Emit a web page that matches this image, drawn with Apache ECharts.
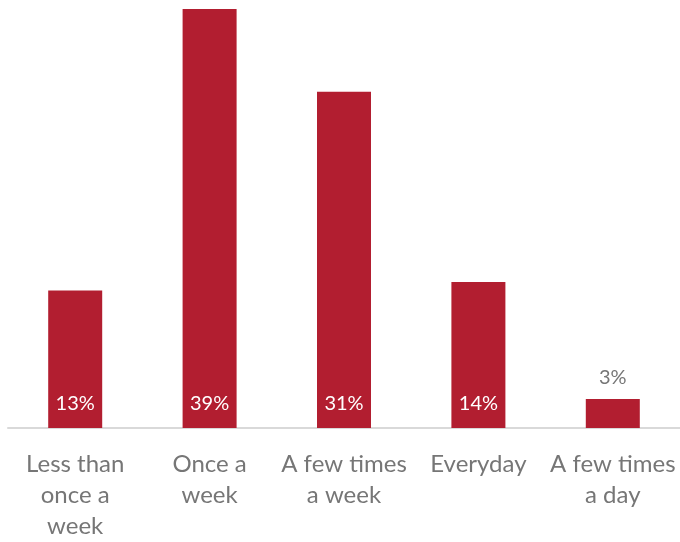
<!DOCTYPE html>
<html><head><meta charset="utf-8">
<script src="https://cdn.jsdelivr.net/npm/echarts@6/dist/echarts.min.js"></script>
<style>html,body{margin:0;padding:0;background:#fff}#c{width:680px;height:542px}</style>
</head><body><div id="c"></div>
<script>
const categories = ['Less than\nonce a\nweek', 'Once a\nweek', 'A few times\na week', 'Everyday', 'A few times\na day'];
const values = [12.8, 39, 31.3, 13.6, 2.7];
const labelInside = [true, true, true, true, false];

const chart = echarts.init(document.getElementById('c'));
chart.setOption({
  animation: false,
  grid: { left: 8, right: 0, top: 9, bottom: 114, containLabel: false },
  xAxis: {
    type: 'category', data: categories,
    axisLine: { lineStyle: { color: '#d9d9d9', width: 2 } },
    axisTick: { show: false },
    axisLabel: { color: '#767676', fontFamily: 'Lato', fontSize: 24, lineHeight: 31, margin: 21, interval: 0 }
  },
  yAxis: { type: 'value', min: 0, max: 39, show: false, splitLine: { show: false } },
  series: [{
    type: 'bar', barWidth: 54,
    itemStyle: { color: '#b21e30' },
    data: values.map((v, i) => ({
      value: v,
      label: labelInside[i]
        ? { show: true, position: 'insideBottom', distance: 14, color: '#ffffff', fontFamily: 'Lato', fontSize: 20, lineHeight: 20, formatter: p => Math.round(p.value) + '%' }
        : { show: true, position: 'top', distance: 11, color: '#767676', fontFamily: 'Lato', fontSize: 20, lineHeight: 20, formatter: p => Math.round(p.value) + '%' }
    }))
  }]
});
</script></body></html>
